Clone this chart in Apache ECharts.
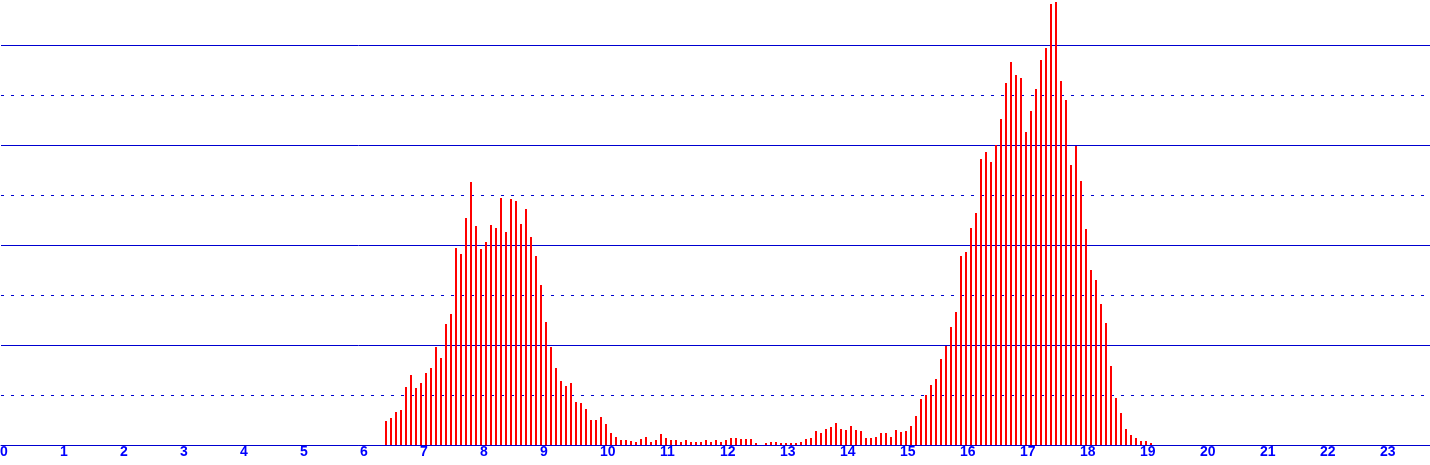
<!DOCTYPE html>
<html>
<head>
<meta charset="utf-8">
<script src="https://cdn.jsdelivr.net/npm/echarts@6/dist/echarts.min.js"></script>
<style>
html,body{margin:0;padding:0;background:#ffffff;}
#chart{width:1430px;height:465px;}
</style>
</head>
<body>
<div id="chart"></div>
<script>
// Time of the first 5-minute slot that has a bar (hours, minutes)
const firstSlotHour = 6;
const firstSlotMinute = 25;
const slotMinutes = 5;

// Bar heights per 5-minute slot (06:25 .. 19:10)
const morningCounts = [24,27,33,35,58,70,57,62,72,77,98,87,121,131,197,191,227,263,219,196,203,220,217,247,213,246,
  244,221,236,208,189,160,123,98,77,64,59,62,43,42,36,25,25,28,21,12,8,5,5,4,3,6,8];
const middayCounts = [3,5,11,7,5,5,3,5,3,3,3,5,3,5,3,5,7,7,6,6,6,2,0,2,3,3,2,2,2,
  2,3,6,7,14,12,16,18,22,16,15,19,15,14,7,7,8,12,12,8,15];
const eveningCounts = [13,14,19,29,46,50,60,66,86,99,118,133,189,193,217,232,286,293,283,300,326,
  362,383,370,367,313,334,356,385,397,441,443,364,345,280,299,
  264,216,175,165,141,122,79,47,32,16,10,7,4,4,2];

// Hour tick labels
const hourLabels = ['0','1','2','3','4','5','6','7','8','9','10','11','12','13','14','15','16','17','18','19','20','21','22','23'];

const counts = morningCounts.concat(middayCounts, eveningCounts);
const start = firstSlotHour + firstSlotMinute / 60;
const seriesData = counts.map((v, i) => [start + i * slotMinutes / 60, v]);

const chart = echarts.init(document.getElementById('chart'), null, {renderer: 'canvas'});
const lineColor = '#0000d0';
chart.setOption({
  backgroundColor: '#ffffff',
  animation: false,
  grid: {left: 1, width: 1430, bottom: 20, height: 450, containLabel: false, outerBoundsMode: 'none'},
  xAxis: {
    type: 'value',
    min: 0,
    max: 1430 / 60,
    interval: 1,
    axisLine: {show: true, onZero: false, lineStyle: {color: lineColor, width: 1}},
    axisTick: {show: false},
    splitLine: {show: false},
    axisLabel: {
      show: true,
      color: '#0000ff',
      fontFamily: 'Liberation Sans',
      fontWeight: 'bold',
      fontSize: 14,
      align: 'left',
      margin: 0,
      padding: [0, 0, 0, -1],
      showMaxLabel: false,
      formatter: function (v) {
        const h = Math.round(v);
        return Math.abs(v - h) < 1e-6 && hourLabels[h] !== undefined ? hourLabels[h] : '';
      }
    }
  },
  yAxis: [
    {
      type: 'value', min: 0, max: 450, interval: 100,
      axisLine: {show: false}, axisTick: {show: false}, axisLabel: {show: false},
      splitLine: {show: true, lineStyle: {color: lineColor, width: 1, type: 'solid'}}
    },
    {
      type: 'value', min: 0, max: 450, interval: 50,
      axisLine: {show: false}, axisTick: {show: false}, axisLabel: {show: false},
      splitLine: {show: true, lineStyle: {color: lineColor, width: 1, type: [3, 7]}}
    }
  ],
  series: [{
    type: 'bar',
    yAxisIndex: 0,
    barWidth: 2,
    data: seriesData,
    itemStyle: {color: '#ff0000'},
    z: 5
  }]
});
</script>
</body>
</html>
